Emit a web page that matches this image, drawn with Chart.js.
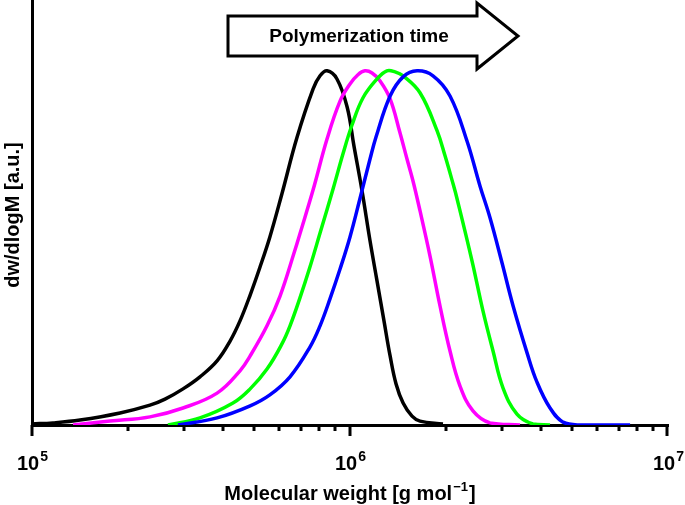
<!DOCTYPE html>
<html>
<head>
<meta charset="utf-8">
<script src="https://cdn.jsdelivr.net/npm/chart.js@4/dist/chart.umd.min.js"></script>
<style>
  html, body { margin: 0; padding: 0; background: #fff; }
  #wrap { width: 685px; height: 505px; }
</style>
</head>
<body>
<div id="wrap"><canvas id="gpcChart" width="685" height="505"></canvas></div>
<script>
// GPC traces (molecular weight in g/mol, dw/dlogM normalised to 100)
const blackM = [1.0e5, 1.164e5, 1.416e5, 1.892e5, 2.35e5, 2.62e5, 2.985e5, 3.375e5, 3.819e5, 4.196e5, 4.509e5, 4.853e5, 5.212e5, 5.598e5, 6.109e5, 6.808e5, 7.656e5, 8.05e5, 8.472e5, 9.099e5, 9.795e5, 1.029e6, 1.091e6, 1.156e6, 1.216e6, 1.279e6, 1.337e6, 1.396e6, 1.469e6, 1.567e6, 1.66e6, 1.96e6];
const blackY = [0.3, 0.6, 1.4, 3.4, 5.6, 7.3, 10.2, 13.6, 18.1, 23.7, 29.4, 36.7, 44.6, 53.1, 65.3, 81.1, 94.9, 98.6, 100, 97.7, 89.8, 78.8, 66.1, 52.0, 40.7, 29.4, 19.5, 11.6, 6.2, 2.5, 1.1, 0.3];

const magentaM = [1.346e5, 1.758e5, 2.35e5, 2.985e5, 3.819e5, 4.509e5, 4.853e5, 5.483e5, 6.026e5, 6.714e5, 6.96e5, 7.656e5, 8.472e5, 9.31e5, 1.0e6, 1.059e6, 1.114e6, 1.173e6, 1.242e6, 1.337e6, 1.436e6, 1.511e6, 1.578e6, 1.66e6, 1.785e6, 1.919e6, 2.063e6, 2.218e6, 2.436e6, 2.756e6, 3.424e6];
const magentaY = [0, 1.1, 2.3, 4.8, 9.0, 15.3, 19.5, 28.0, 36.4, 49.4, 54.0, 66.4, 80.8, 91.5, 96.3, 98.9, 100, 99.4, 97.2, 92.1, 82.5, 75.1, 68.9, 60.5, 47.7, 33.6, 20.9, 11.0, 4.0, 0.6, 0];

const greenM = [2.677e5, 3.374e5, 4.285e5, 4.853e5, 5.483e5, 6.109e5, 6.477e5, 6.96e5, 7.482e5, 8.05e5, 8.85e5, 9.506e5, 1.0146e6, 1.099e6, 1.216e6, 1.306e6, 1.386e6, 1.469e6, 1.66e6, 1.878e6, 1.99e6, 2.109e6, 2.168e6, 2.42e6, 2.619e6, 2.817e6, 3.027e6, 3.35e6, 3.76e6, 4.256e6];
const greenY = [0, 2.0, 6.2, 10.2, 15.8, 22.9, 28.0, 35.9, 44.6, 54.2, 66.7, 76.6, 84.7, 92.4, 97.7, 100, 99.7, 98.6, 93.8, 83.1, 76.0, 68.1, 64.1, 46.3, 32.2, 20.9, 10.5, 3.1, 0.3, 0];

const blueM = [2.878e5, 3.819e5, 4.853e5, 5.598e5, 6.477e5, 7.482e5, 8.05e5, 8.65e5, 9.31e5, 1.0e6, 1.074e6, 1.156e6, 1.208e6, 1.337e6, 1.469e6, 1.625e6, 1.824e6, 2.063e6, 2.333e6, 2.563e6, 2.756e6, 3.006e6, 3.258e6, 3.606e6, 3.873e6, 4.256e6, 4.677e6, 5.286e6, 7.6e6];
const blueY = [0, 2.0, 5.4, 8.5, 13.6, 22.0, 28.0, 35.6, 44.1, 53.1, 63.8, 75.1, 81.4, 92.9, 98.3, 100, 98.6, 92.9, 80.2, 67.5, 58.5, 45.8, 33.6, 20.3, 12.1, 4.8, 0.8, 0, 0];

// axis labels
const majorTicks = [1e5, 1e6, 1e7];
const tickExponents = ['5', '6', '7'];
const xTitle = 'Molecular weight [g mol';
const yTitle = 'dw/dlogM [a.u.]';
const arrowText = 'Polymerization time';

const FONT = '"Liberation Sans", Arial, Helvetica, sans-serif';

function toPoints(xs, ys) {
  return xs.map((x, i) => ({ x: x, y: ys[i] }));
}

function trace(label, xs, ys, color) {
  return {
    label: label,
    data: toPoints(xs, ys),
    borderColor: color,
    backgroundColor: color,
    borderWidth: 3.5,
    pointRadius: 0,
    tension: 0.4,
    fill: false
  };
}

// tick marks, tick labels, axis titles and the arrow
const decorPlugin = {
  id: 'decor',
  afterDraw(chart) {
    const ctx = chart.ctx;
    const xs = chart.scales.x;
    const area = chart.chartArea;
    const base = area.bottom;
    ctx.save();
    ctx.strokeStyle = '#000';
    ctx.lineWidth = 3;
    ctx.lineCap = 'butt';

    // log ticks: every k*10^e, long ones at the decades
    for (let e = 5; e <= 6; e++) {
      for (let k = 1; k <= 9; k++) {
        const v = k * Math.pow(10, e);
        const px = Math.round(xs.getPixelForValue(v));
        const len = k === 1 ? 11 : 6;
        ctx.beginPath();
        ctx.moveTo(px, base);
        ctx.lineTo(px, base + len);
        ctx.stroke();
      }
    }
    const pxEnd = Math.round(xs.getPixelForValue(1e7)) - 1;
    ctx.beginPath();
    ctx.moveTo(pxEnd, base);
    ctx.lineTo(pxEnd, base + 11);
    ctx.stroke();

    // decade labels 10^n
    ctx.fillStyle = '#000';
    ctx.textBaseline = 'alphabetic';
    majorTicks.forEach((v, i) => {
      const px = xs.getPixelForValue(v);
      ctx.font = 'bold 20px ' + FONT;
      const w1 = ctx.measureText('10').width;
      ctx.font = 'bold 14px ' + FONT;
      const w2 = ctx.measureText(tickExponents[i]).width;
      const left = px - (w1 + w2) / 2;
      ctx.textAlign = 'left';
      ctx.font = 'bold 20px ' + FONT;
      ctx.fillText('10', left, 470);
      ctx.font = 'bold 14px ' + FONT;
      ctx.fillText(tickExponents[i], left + w1 + 1, 461);
    });

    // x title with superscript -1
    ctx.font = 'bold 20px ' + FONT;
    const t1 = ctx.measureText(xTitle).width;
    ctx.font = 'bold 13px ' + FONT;
    const t2 = ctx.measureText('\u22121').width;
    ctx.font = 'bold 20px ' + FONT;
    const t3 = ctx.measureText(']').width;
    const cx = (area.left + area.right) / 2;
    let tx = cx - (t1 + t2 + t3 + 2) / 2;
    ctx.textAlign = 'left';
    ctx.fillText(xTitle, tx, 500);
    ctx.font = 'bold 13px ' + FONT;
    ctx.fillText('\u22121', tx + t1 + 1, 491);
    ctx.font = 'bold 20px ' + FONT;
    ctx.fillText(']', tx + t1 + t2 + 2, 500);

    // y title
    ctx.save();
    ctx.translate(19, 215);
    ctx.rotate(-Math.PI / 2);
    ctx.textAlign = 'center';
    ctx.font = 'bold 20px ' + FONT;
    ctx.fillText(yTitle, 0, 0);
    ctx.restore();

    // "Polymerization time" arrow
    ctx.beginPath();
    ctx.moveTo(228, 16);
    ctx.lineTo(477, 16);
    ctx.lineTo(477, 3);
    ctx.lineTo(518, 36);
    ctx.lineTo(477, 69);
    ctx.lineTo(477, 56);
    ctx.lineTo(228, 56);
    ctx.closePath();
    ctx.fillStyle = '#fff';
    ctx.fill();
    ctx.lineJoin = 'miter';
    ctx.lineWidth = 3;
    ctx.stroke();
    ctx.fillStyle = '#000';
    ctx.font = 'bold 19px ' + FONT;
    ctx.textAlign = 'center';
    ctx.textBaseline = 'middle';
    ctx.fillText(arrowText, 359, 37);

    ctx.restore();
  }
};

const ctx = document.getElementById('gpcChart').getContext('2d');
const gpcChart = new Chart(ctx, {
  type: 'line',
  data: {
    // first dataset ends up on top
    datasets: [
      trace('t4', blueM, blueY, '#0000ff'),
      trace('t3', greenM, greenY, '#00ff00'),
      trace('t2', magentaM, magentaY, '#ff00ff'),
      trace('t1', blackM, blackY, '#000000')
    ]
  },
  options: {
    responsive: false,
    animation: false,
    layout: { padding: { left: 32, right: 17, top: 0, bottom: 80 } },
    plugins: {
      legend: { display: false },
      tooltip: { enabled: false }
    },
    scales: {
      x: {
        type: 'logarithmic',
        min: 1e5,
        max: 1e7,
        grid: { display: false, drawTicks: false },
        ticks: { display: false },
        border: { display: true, color: '#000', width: 3 }
      },
      y: {
        type: 'linear',
        min: 0,
        max: 120,
        grid: { display: false, drawTicks: false },
        ticks: { display: false },
        border: { display: true, color: '#000', width: 3 }
      }
    }
  },
  plugins: [decorPlugin]
});
</script>
</body>
</html>
